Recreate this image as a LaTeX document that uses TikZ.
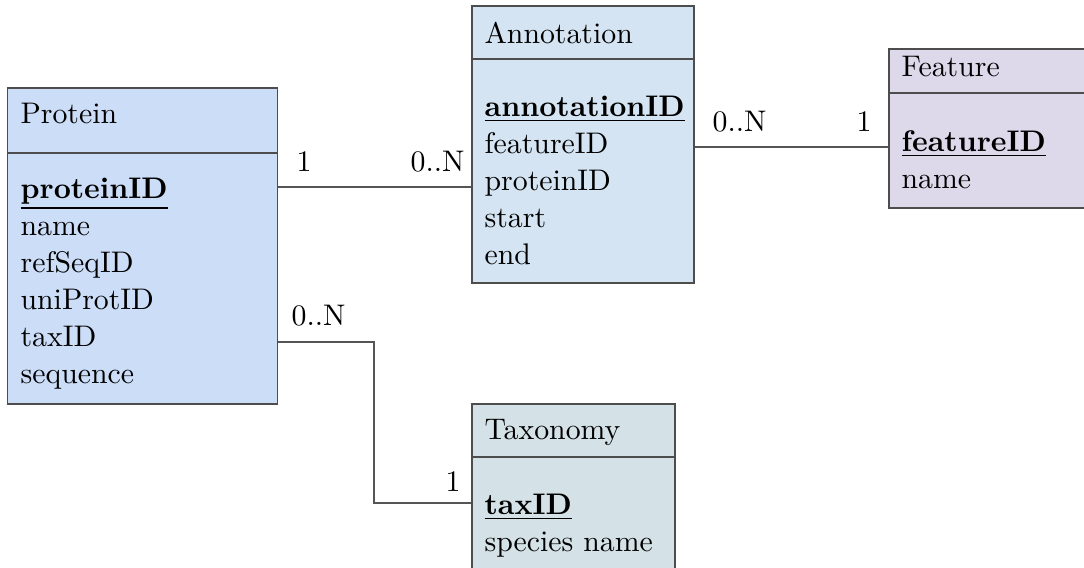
\documentclass[tikz,border=0pt]{standalone}
\usepackage{xcolor}
\definecolor{protfill}{HTML}{CCDDF7}
\definecolor{annfill}{HTML}{D4E4F2}
\definecolor{featfill}{HTML}{DDD9EB}
\definecolor{taxfill}{HTML}{D4E1E6}
\definecolor{edgegray}{HTML}{4D4D4D}
\definecolor{linkgray}{HTML}{555555}
\def\u{0.3356pt}
\begin{document}
\begin{tikzpicture}[x=0.3356pt,y=-0.3356pt,
  tbl/.style={draw=edgegray, line width=0.5pt, anchor=north west, inner sep=0pt},
  divline/.style={draw=edgegray, line width=0.45pt},
  txt/.style={anchor=base west, inner sep=0pt, font=\normalsize},
  link/.style={draw=linkgray, line width=0.4pt},
  card/.style={anchor=base west, inner sep=0pt}]
\clip (0,0) rectangle (1084,567);
\fill[white] (0,0) rectangle (1084,567);
% Protein
\node[tbl, fill=protfill, minimum width=270*\u, minimum height=316*\u] (prot) at (7,87) {};
\draw[divline] (prot.west |- 0,153) -- (prot.east |- 0,153);
\node[txt] (pt) at (20,123) {Protein};
\node[txt] (p1) at (20,198) {\underline{\textbf{proteinID}}};
\node[txt] (p2) at (20,235) {name};
\node[txt] (p3) at (20,272) {refSeqID};
\node[txt] (p4) at (20,309) {uniProtID};
\node[txt] (p5) at (20,346) {taxID};
\node[txt] (p6) at (20,383) {sequence};
% Annotation
\node[tbl, fill=annfill, minimum width=222*\u, minimum height=277*\u] (ann) at (471,5) {};
\draw[divline] (ann.west |- 0,59) -- (ann.east |- 0,59);
\node[txt] (at) at (484,43) {Annotation};
\node[txt] (a1) at (484,116) {\underline{\textbf{annotationID}}};
\node[txt] (a2) at (484,153) {featureID};
\node[txt] (a3) at (484,190) {proteinID};
\node[txt] (a4) at (484,227) {start};
\node[txt] (a5) at (484,264) {end};
% Feature
\node[tbl, fill=featfill, minimum width=300*\u, minimum height=159*\u] (feat) at (888,48) {};
\draw[divline] (feat.west |- 0,93) -- (feat.east |- 0,93);
\node[txt] (ft) at (901,76) {Feature};
\node[txt] (f1) at (901,151) {\underline{\textbf{featureID}}};
\node[txt] (f2) at (901,188) {name};
% Taxonomy
\node[tbl, fill=taxfill, minimum width=203*\u, minimum height=240*\u] (tax) at (471,403) {};
\draw[divline] (tax.west |- 0,457) -- (tax.east |- 0,457);
\node[txt] (tt) at (484,439) {Taxonomy};
\node[txt] (t1) at (484,514) {\underline{\textbf{taxID}}};
\node[txt] (t2) at (484,551) {species name};
% connectors
\coordinate (pa) at (0,187);
\coordinate (af) at (0,147);
\coordinate (ptA) at (374,342);
\coordinate (ptB) at (374,503);
\draw[link] (prot.east |- pa) -- (ann.west |- pa);
\draw[link] (ann.east |- af) -- (feat.west |- af);
\draw[link] (prot.east |- ptA) -- (ptA) -- (ptB) -- (tax.west |- ptB);
% cardinalities
\node[card] (c1) at (296,171) {1};
\node[card] (c2) at (410,171) {0..N};
\node[card] (c3) at (712,131) {0..N};
\node[card] (c4) at (856,131) {1};
\node[card] (c5) at (291,325) {0..N};
\node[card] (c6) at (445,491) {1};
\end{tikzpicture}
\end{document}
